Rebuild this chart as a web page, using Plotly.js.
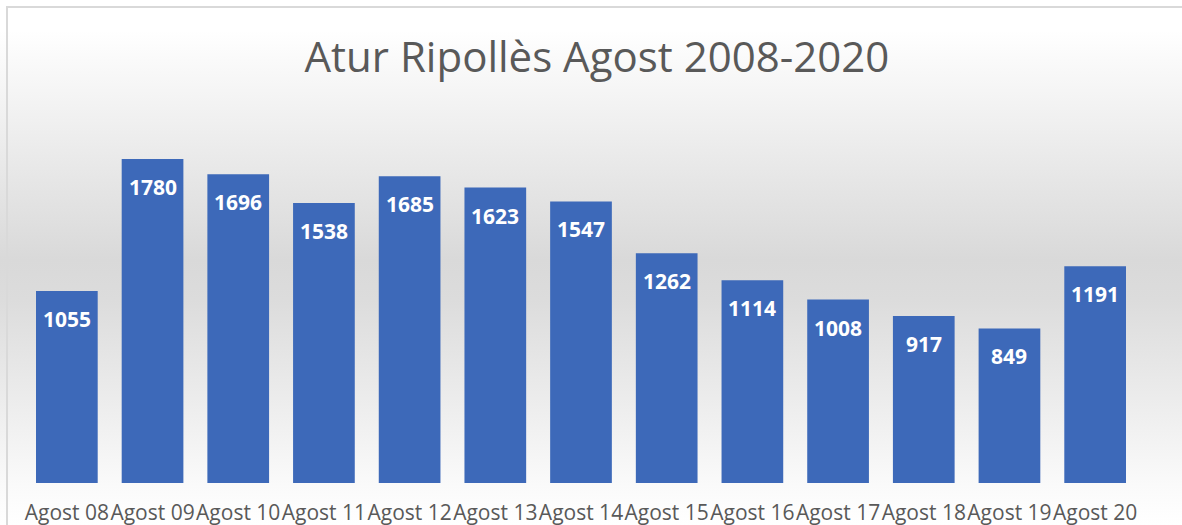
<!DOCTYPE html>
<html>
<head>
<meta charset="utf-8">
<script src="https://cdn.plot.ly/plotly-3.0.1.min.js"></script>
<style>
  html, body { margin: 0; padding: 0; overflow: hidden; }
  body {
    width: 1182px; height: 525px;
    background: linear-gradient(to bottom, #ffffff 0px, #ffffff 30px, #d9d9d9 260px, #dcdcdc 300px, #fafafa 485px, #ffffff 525px);
  }
  #frame {
    position: absolute; left: 6px; top: 6px; width: 1300px; height: 600px;
    border-top: 2px solid #d9d9d9; border-left: 2px solid #d9d9d9;
    box-sizing: border-box;
  }
  #chart { position: absolute; left: 0; top: 0; width: 1182px; height: 525px; }
</style>
</head>
<body>
<div id="frame"></div>
<div id="chart"></div>
<script>
  const categories = ["Agost 08", "Agost 09", "Agost 10", "Agost 11", "Agost 12", "Agost 13", "Agost 14",
    "Agost 15", "Agost 16", "Agost 17", "Agost 18", "Agost 19", "Agost 20"];
  const atur = [1055, 1780, 1696, 1538, 1685, 1623, 1547, 1262, 1114, 1008, 917, 849, 1191];

  const FONT = "'Open Sans', 'Noto Sans', sans-serif";

  const bars = {
    x: categories,
    y: atur,
    type: "bar",
    marker: { color: "#3d69b9", line: { width: 0 } },
    hoverinfo: "x+y",
  };

  const labels = categories.map((c, i) => ({
    x: c,
    y: atur[i],
    xref: "x",
    yref: "y",
    text: String(atur[i]),
    showarrow: false,
    yanchor: "middle",
    yshift: -28,
    font: { family: FONT, size: 21, color: "#ffffff", weight: 700 },
  }));

  const layout = {
    width: 1182,
    height: 525,
    margin: { l: 24, r: 44, t: 119, b: 42 },
    paper_bgcolor: "rgba(0,0,0,0)",
    plot_bgcolor: "rgba(0,0,0,0)",
    bargap: 0.28,
    showlegend: false,
    title: {
      text: "Atur Ripollès Agost 2008-2020",
      x: 0.505,
      xref: "container",
      xanchor: "center",
      y: 0.89,
      yref: "container",
      yanchor: "middle",
      font: { family: FONT, size: 42, color: "#595959" },
    },
    xaxis: {
      showgrid: false,
      showline: false,
      zeroline: false,
      ticks: "",
      tickangle: 0,
      ticklabelstandoff: 15,
      tickfont: { family: FONT, size: 21, color: "#595959" },
    },
    yaxis: {
      range: [0, 2000],
      visible: false,
      showgrid: false,
      zeroline: false,
    },
    annotations: labels,
  };

  Plotly.newPlot("chart", [bars], layout, { displayModeBar: false, staticPlot: true });
</script>
</body>
</html>
